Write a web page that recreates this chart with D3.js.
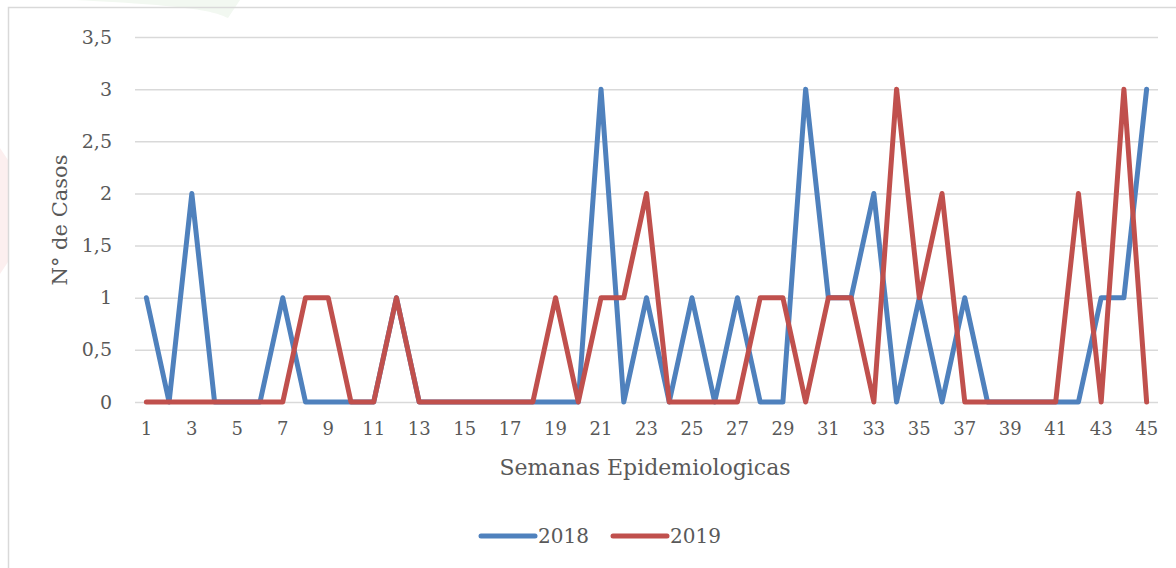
<!DOCTYPE html>
<html>
<head>
<meta charset="utf-8">
<script src="https://cdn.jsdelivr.net/npm/d3@7"></script>
<style>
  body { margin: 0; background: #fff; }
  svg text { font-family: "DejaVu Serif", "Liberation Serif", serif; fill: #595959; }
</style>
</head>
<body>
<div id="chart"></div>
<script>
// weeks 1..45
const weeks = d3.range(1, 46);
const cases2018 = [1,0,2,0,0,0,1,0,0,0,0,1,0,0,0,0,0,0,0,0,3,0,1,0,1,0,1,0,0,3,1,1,2,0,1,0,1,0,0,0,0,0,1,1,3];
const cases2019 = [0,0,0,0,0,0,0,1,1,0,0,1,0,0,0,0,0,0,1,0,1,1,2,0,0,0,0,1,1,0,1,1,0,3,1,2,0,0,0,0,0,2,0,3,0];
const yTicks = [0, 0.5, 1, 1.5, 2, 2.5, 3, 3.5];
const seriesNames = ["2018", "2019"];
const colors = ["#4f81bd", "#c0504d"];

const W = 1176, H = 568;
const margin = { top: 37, right: 18, bottom: 166, left: 135 };

const svg = d3.select("#chart")
  .append("svg")
  .attr("width", W)
  .attr("height", H);

// faint background leaves
svg.append("path")
  .attr("d", "M75,0 L240,0 L228,18 C215,12 200,6 75,0 Z")
  .attr("fill", "#f2f8f1");
svg.append("path")
  .attr("d", "M0,148 L8,160 L8,262 L0,274 Z")
  .attr("fill", "#fcefef");

// frame
svg.append("path")
  .attr("d", "M8.5," + H + " V7.5 H" + W)
  .attr("fill", "none")
  .attr("stroke", "#d9d9d9")
  .attr("stroke-width", 1.5);

const x = d3.scaleBand()
  .domain(weeks)
  .range([margin.left, W - margin.right]);

const y = d3.scaleLinear()
  .domain([0, 3.5])
  .range([H - margin.bottom, margin.top]);

const fmt = d => String(d).replace(".", ",");

// gridlines + y labels
const yAxis = svg.append("g")
  .attr("transform", "translate(" + margin.left + ",0)")
  .call(d3.axisLeft(y).tickValues(yTicks).tickFormat(fmt)
    .tickSize(-(W - margin.right - margin.left)).tickPadding(23));
yAxis.select(".domain").remove();
yAxis.selectAll("line").attr("stroke", "#d9d9d9").attr("stroke-width", 1.5);
yAxis.selectAll("text").style("font-size", "19px").attr("fill", "#595959");

// x labels (odd weeks)
const xAxis = svg.append("g")
  .attr("transform", "translate(0," + (H - margin.bottom) + ")")
  .call(d3.axisBottom(x).tickValues(weeks.filter(w => w % 2 === 1)).tickSize(0).tickPadding(20));
xAxis.select(".domain").remove();
xAxis.selectAll("text").style("font-size", "18px").attr("fill", "#595959");

// lines
const line = d3.line()
  .x((d, i) => x(weeks[i]) + x.bandwidth() / 2)
  .y(d => y(d));

[cases2018, cases2019].forEach((vals, k) => {
  svg.append("path")
    .datum(vals)
    .attr("d", line)
    .attr("fill", "none")
    .attr("stroke", colors[k])
    .attr("stroke-width", 5)
    .attr("stroke-linejoin", "round")
    .attr("stroke-linecap", "round");
});

// axis titles
svg.append("text")
  .attr("x", 645)
  .attr("y", 475)
  .attr("text-anchor", "middle")
  .style("font-size", "22px")
  .text("Semanas Epidemiologicas");

svg.append("text")
  .attr("transform", "translate(67,220) rotate(-90)")
  .attr("text-anchor", "middle")
  .style("font-size", "21px")
  .text("N° de Casos");

// legend
const legend = svg.append("g");
const legendX = [481, 613];
seriesNames.forEach((name, k) => {
  legend.append("line")
    .attr("x1", legendX[k]).attr("x2", legendX[k] + 54)
    .attr("y1", 536).attr("y2", 536)
    .attr("stroke", colors[k])
    .attr("stroke-width", 5)
    .attr("stroke-linecap", "round");
  legend.append("text")
    .attr("x", legendX[k] + 57)
    .attr("y", 543)
    .style("font-size", "20px")
    .text(name);
});
</script>
</body>
</html>
